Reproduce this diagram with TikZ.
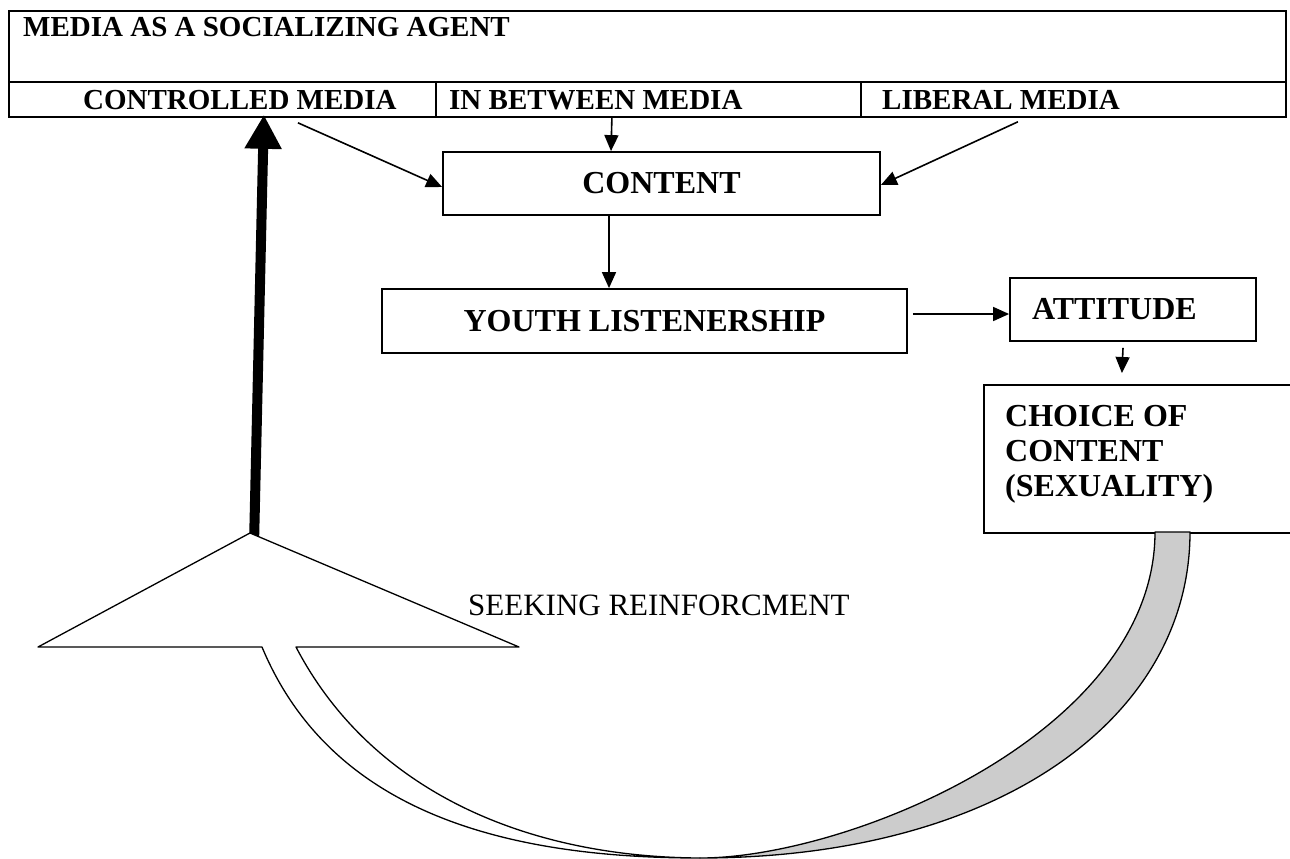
\documentclass[tikz,border=0pt]{standalone}
\usepackage{fontspec}
\setmainfont{Liberation Serif}
\usetikzlibrary{arrows.meta}
\begin{document}
\begin{tikzpicture}[x=1pt,y=-1pt,
  bx/.style={draw, line width=1.8pt, inner sep=0pt},
  toptxt/.style={inner sep=0pt, font=\bfseries\fontsize{29}{33}\selectfont},
  boxfont/.style={font=\bfseries\fontsize{32}{35}\selectfont},
  arr/.style={line width=1.6pt, -{Triangle[length=16pt,width=14pt]}},
  thickarr/.style={line width=10pt, -{Triangle[length=34pt,width=35pt]}},
  bandedge/.style={line width=1.3pt, line join=round}
]
\useasboundingbox (0,0) rectangle (1290,859);
\clip (0,0) rectangle (1290,859);
\fill[white] (0,0) rectangle (1290,859);

% top table
\node[bx, anchor=north west, minimum width=1277pt, minimum height=71pt] (hdr) at (8,10) {};
\node[bx, anchor=north west, minimum width=427pt, minimum height=35pt] (ctrl) at (8,81) {};
\node[bx, anchor=north west, minimum width=425pt, minimum height=35pt] (mid) at (435,81) {};
\node[bx, anchor=north west, minimum width=425pt, minimum height=35pt] (lib) at (860,81) {};
\node[toptxt, anchor=base west] (hdrtxt) at (23,37) {MEDIA AS A SOCIALIZING AGENT};
\node[toptxt, anchor=base west] (ctrltxt) at (83,109) {CONTROLLED MEDIA};
\node[toptxt, anchor=base west] (midtxt) at (449,109) {IN BETWEEN MEDIA};
\node[toptxt, anchor=base west] (libtxt) at (882,109) {LIBERAL MEDIA};

% boxes
\node[bx, boxfont, minimum width=437pt, minimum height=63pt] (content) at (661.5,183.5) {CONTENT};
\node[bx, boxfont, minimum width=525pt, minimum height=64pt] (youth) at (644.5,321) {YOUTH LISTENERSHIP};
\node[bx, boxfont, minimum height=63pt, text width=202pt, inner xsep=22pt, align=left] (attitude) at (1133,309.5) {ATTITUDE};
\node[bx, anchor=north west, minimum width=308pt, minimum height=148pt] (choice) at (983,384) {};
\node[boxfont, inner sep=0pt, anchor=north west, align=left] (choicetxt) at (1005,405) {CHOICE OF\\CONTENT\\(SEXUALITY)};

% connectors
\draw[arr] ([xshift=75.5pt,yshift=-5pt]ctrl.south) -- ([yshift=-3.5pt]content.west);
\draw[arr] ([xshift=-36.5pt]mid.south) -- ([xshift=-50.5pt]content.north);
\draw[arr] ([xshift=-55.5pt,yshift=-4pt]lib.south) -- ([yshift=-1.5pt]content.east);
\draw[arr] ([xshift=-52.5pt]content.south) -- ([xshift=-35.5pt]youth.north);
\draw[arr] ([xshift=5pt,yshift=7pt]youth.east) -- ([yshift=-4.5pt]attitude.west);
\draw[arr] ([xshift=-10pt,yshift=-6pt]attitude.south) -- ([xshift=-16pt,yshift=11pt]choice.north);

% thick arrow
\coordinate (apex) at (250,533);
\draw[thickarr] (254,545) -- ([xshift=41.5pt,yshift=3pt]ctrl.south);

% curved up arrow
\draw[bandedge, fill=white] (296,647) -- (519,647) -- (apex) -- (38,647) -- (262,647)
  .. controls (330,810) and (500,858) .. (700,858)
  .. controls (520,857) and (369,787) .. (296,647) -- cycle;
\draw[bandedge, fill=gray!40] (700,858) .. controls (1000,858) and (1190,717) .. (1190,532)
  -- (1155,532) .. controls (1155,732) and (850,858) .. (700,858) -- cycle;

\node[inner sep=0pt, anchor=base west, font=\fontsize{31}{35}\selectfont] (seek) at (468,615) {SEEKING REINFORCMENT};
\end{tikzpicture}
\end{document}
